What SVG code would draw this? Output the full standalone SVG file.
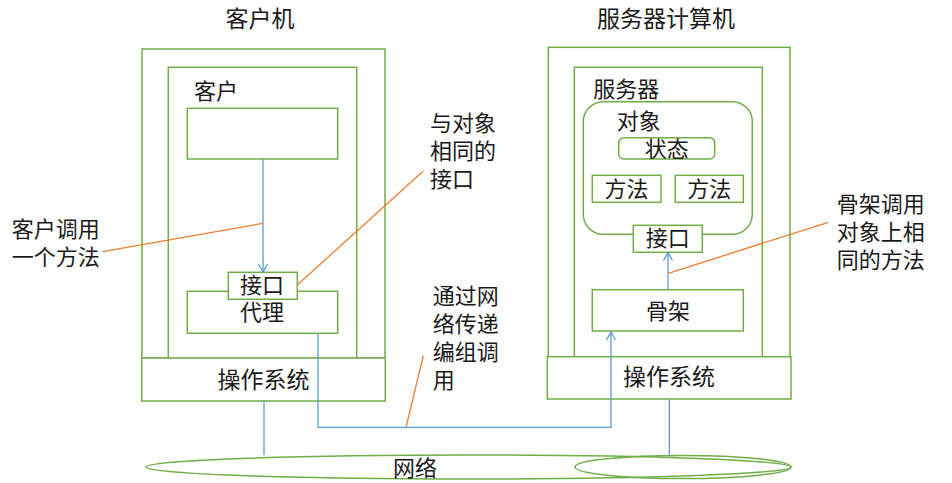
<svg xmlns="http://www.w3.org/2000/svg" width="952" height="483" viewBox="0 0 952 483">
<style>
  .box { fill: #ffffff; stroke: #70AD47; stroke-width: 1.5; }
  .t { font-family: "Noto Sans CJK SC", "Noto Sans", sans-serif; font-size: 22px; fill: #1a1a1a; }
  .c { text-anchor: middle; }
  .blue { fill: none; stroke: #5B9BD5; stroke-width: 1.3; }
  .orange { fill: none; stroke: #ED7D31; stroke-width: 1.3; }
</style>
<defs>
  <marker id="arr" markerUnits="userSpaceOnUse" markerWidth="12" markerHeight="12" refX="9" refY="5" orient="auto">
    <path d="M1,0.5 L9,5 L1,9.5" fill="none" stroke="#5B9BD5" stroke-width="1.3"/>
  </marker>
</defs>
<rect width="952" height="483" fill="#ffffff"/>

<g id="titles">
  <text class="t c" x="260" y="26.5" style="font-size:23px">客户机</text>
  <text class="t c" x="666" y="26.5" style="font-size:23px">服务器计算机</text>
</g>

<g id="network">
  <ellipse class="box" cx="468.5" cy="467" rx="322.5" ry="12"/>
  <ellipse class="box" cx="683" cy="467" rx="108" ry="11.5" fill="none" style="fill:none"/>
  <text class="t c" x="415" y="475.5">网络</text>
</g>

<g id="client-machine">
  <rect class="box" x="142" y="49" width="243" height="309"/>
</g>
<g id="client">
  <rect class="box" x="168.3" y="67.3" width="188.4" height="291"/>
  <text class="t" x="194" y="98.5">客户</text>
</g>
<g id="client-app">
  <rect class="box" x="187.3" y="108.3" width="150.4" height="50.7"/>
</g>
<g id="proxy">
  <rect class="box" x="187.3" y="291.3" width="150.4" height="42"/>
  <text class="t c" x="262" y="319.5">代理</text>
</g>
<g id="proxy-interface">
  <rect class="box" x="228.3" y="272.3" width="69" height="27"/>
  <text class="t c" x="262" y="292.5">接口</text>
</g>
<g id="client-os">
  <rect class="box" x="141.7" y="358" width="243.6" height="43"/>
  <text class="t c" x="263.5" y="387.5" style="font-size:23px">操作系统</text>
</g>

<g id="server-machine">
  <rect class="box" x="548.3" y="47.3" width="241.7" height="310"/>
</g>
<g id="server">
  <rect class="box" x="574.3" y="67.3" width="188" height="290"/>
  <text class="t" x="593.3" y="96.5">服务器</text>
</g>
<g id="object">
  <rect class="box" x="583.3" y="101.7" width="169" height="132.6" rx="20" ry="20"/>
  <text class="t" x="616.7" y="128.5">对象</text>
</g>
<g id="state">
  <rect class="box" x="618.7" y="137.7" width="96" height="21.3" rx="5" ry="5"/>
  <text class="t c" x="666.7" y="156.5">状态</text>
</g>
<g id="method1">
  <rect class="box" x="592.3" y="175.3" width="68.7" height="27"/>
  <text class="t c" x="626.6" y="197">方法</text>
</g>
<g id="method2">
  <rect class="box" x="675.3" y="175.3" width="68" height="27"/>
  <text class="t c" x="709.3" y="197">方法</text>
</g>
<g id="server-interface">
  <rect class="box" x="633.3" y="225.3" width="69" height="27"/>
  <text class="t c" x="667.8" y="246">接口</text>
</g>
<g id="skeleton">
  <rect class="box" x="592.3" y="289.7" width="151" height="41.3"/>
  <text class="t c" x="668" y="318.5">骨架</text>
</g>
<g id="server-os">
  <rect class="box" x="547.3" y="356.7" width="243.7" height="42.3"/>
  <text class="t c" x="669" y="385" style="font-size:23px">操作系统</text>
</g>

<g id="labels">
  <text class="t" x="11.7" y="236.5">客户调用</text>
  <text class="t" x="11.7" y="265">一个方法</text>
  <text class="t" x="430" y="130.5">与对象</text>
  <text class="t" x="430" y="158.5">相同的</text>
  <text class="t" x="430" y="186.5">接口</text>
  <text class="t" x="432.7" y="303.5">通过网</text>
  <text class="t" x="432.7" y="331.5">络传递</text>
  <text class="t" x="432.7" y="359.5">编组调</text>
  <text class="t" x="432.7" y="387.5">用</text>
  <text class="t" x="836.7" y="211.5">骨架调用</text>
  <text class="t" x="836.7" y="239.5">对象上相</text>
  <text class="t" x="836.7" y="267.5">同的方法</text>
</g>

<g id="connectors">
  <line class="blue" x1="263" y1="159" x2="263" y2="272" marker-end="url(#arr)"/>
  <polyline class="blue" points="318,333.3 318,427.3 611,427.3 611,332" marker-end="url(#arr)"/>
  <line class="blue" x1="668" y1="289.7" x2="668" y2="252.5" marker-end="url(#arr)"/>
  <line class="blue" x1="264" y1="401" x2="264" y2="455"/>
  <line class="blue" x1="669.3" y1="399" x2="669.3" y2="455.5"/>
  <line class="orange" x1="102.7" y1="251.7" x2="263" y2="223.3"/>
  <line class="orange" x1="297.3" y1="285" x2="423.3" y2="171"/>
  <line class="orange" x1="423.3" y1="355.7" x2="406" y2="427.3"/>
  <line class="orange" x1="668.3" y1="273.3" x2="828.3" y2="222.3"/>
</g>
</svg>
